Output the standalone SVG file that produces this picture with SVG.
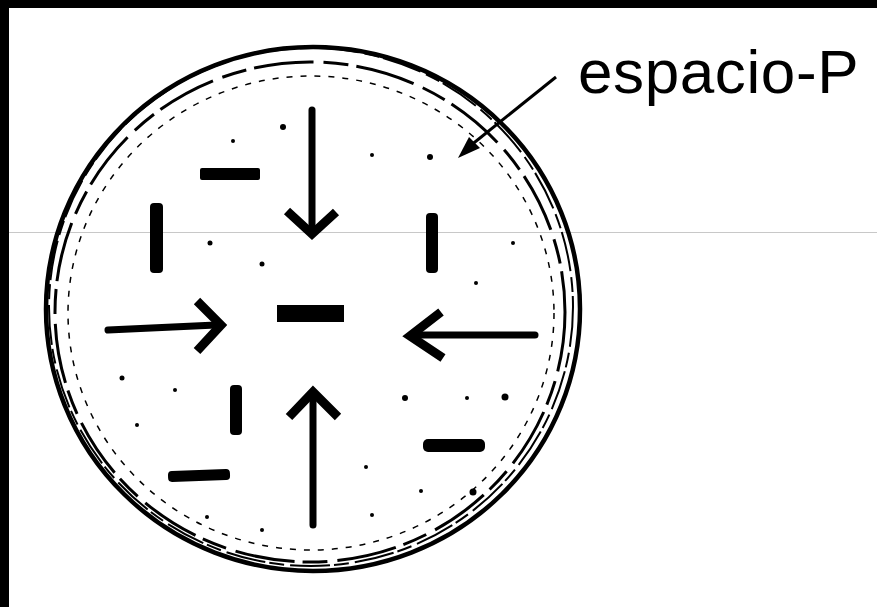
<svg xmlns="http://www.w3.org/2000/svg" width="877" height="607" viewBox="0 0 877 607">
<style>
.ring{fill:none;stroke:#000}
.bar{fill:#000}
.arr{fill:none;stroke:#000;stroke-width:7;stroke-linecap:round;stroke-linejoin:miter}
.head{fill:none;stroke:#000;stroke-width:9;stroke-linecap:butt;stroke-linejoin:miter}
.dot{fill:#000}
.lbl{font-family:"Liberation Sans",Arial,sans-serif;font-size:62px;fill:#000;letter-spacing:0.6px}
</style>
<rect x="0" y="0" width="877" height="607" fill="#fff"/>
<rect x="0" y="0" width="877" height="8" fill="#000"/>
<rect x="0" y="0" width="9" height="607" fill="#000"/>
<line x1="9" y1="232.5" x2="877" y2="232.5" stroke="#c8c8c8" stroke-width="1"/>
<g id="circle">
<ellipse class="ring" cx="313" cy="309" rx="267" ry="262" stroke-width="4.5"/>
<ellipse class="ring" cx="311" cy="307" rx="262" ry="259" stroke-width="2" stroke-dasharray="40 6 15 4"/>
<ellipse class="ring" cx="310" cy="312" rx="255" ry="250" stroke-width="3" stroke-dasharray="60 10 25 8"/>
<ellipse class="ring" cx="311" cy="313" rx="243" ry="237" stroke-width="1.5" stroke-dasharray="6 8"/>
</g>
<g id="bars">
<rect class="bar" x="277" y="305" width="67" height="17"/>
<rect class="bar" x="200" y="168" width="60" height="12" rx="2"/>
<rect class="bar" x="150" y="203" width="13" height="70" rx="4"/>
<rect class="bar" x="426" y="213" width="12" height="60" rx="4"/>
<rect class="bar" x="230" y="385" width="12" height="50" rx="4"/>
<rect class="bar" x="168" y="470" width="62" height="11" rx="4" transform="rotate(-2 199 475)"/>
<rect class="bar" x="423" y="439" width="62" height="13" rx="5"/>
</g>
<g id="dots">
<circle class="dot" cx="283" cy="127" r="3"/>
<circle class="dot" cx="233" cy="141" r="2"/>
<circle class="dot" cx="372" cy="155" r="2"/>
<circle class="dot" cx="430" cy="157" r="3"/>
<circle class="dot" cx="210" cy="243" r="2.5"/>
<circle class="dot" cx="262" cy="264" r="2.5"/>
<circle class="dot" cx="513" cy="243" r="2"/>
<circle class="dot" cx="476" cy="283" r="2"/>
<circle class="dot" cx="405" cy="398" r="3"/>
<circle class="dot" cx="467" cy="398" r="2"/>
<circle class="dot" cx="505" cy="397" r="3.5"/>
<circle class="dot" cx="366" cy="467" r="2"/>
<circle class="dot" cx="421" cy="491" r="2"/>
<circle class="dot" cx="473" cy="492" r="3.5"/>
<circle class="dot" cx="372" cy="515" r="2"/>
<circle class="dot" cx="122" cy="378" r="2.5"/>
<circle class="dot" cx="175" cy="390" r="2"/>
<circle class="dot" cx="137" cy="425" r="2"/>
<circle class="dot" cx="207" cy="517" r="2"/>
<circle class="dot" cx="262" cy="530" r="2"/>
</g>
<g id="connectors">
<g id="arrow-down">
<path class="arr" d="M312 110 V228"/>
<path class="head" d="M287 211 L312 234 L336 212"/>
</g>
<g id="arrow-right">
<path class="arr" d="M108 330 L216 325"/>
<path class="head" d="M197 301 L221 325 L197 351"/>
</g>
<g id="arrow-left">
<path class="arr" d="M414 335 L535 335"/>
<path class="head" d="M441 312 L410 336 L443 358"/>
</g>
<g id="arrow-up">
<path class="arr" d="M313 397 V525"/>
<path class="head" d="M289 417 L313 392 L338 417"/>
</g>
<g id="leader">
<line x1="556" y1="77" x2="470" y2="146" stroke="#000" stroke-width="3"/>
<path d="M458 158 L469 137 L480 148 Z" fill="#000"/>
</g>
</g>
<g id="label">
<text class="lbl" x="578" y="93">espacio-P</text>
</g>
</svg>
